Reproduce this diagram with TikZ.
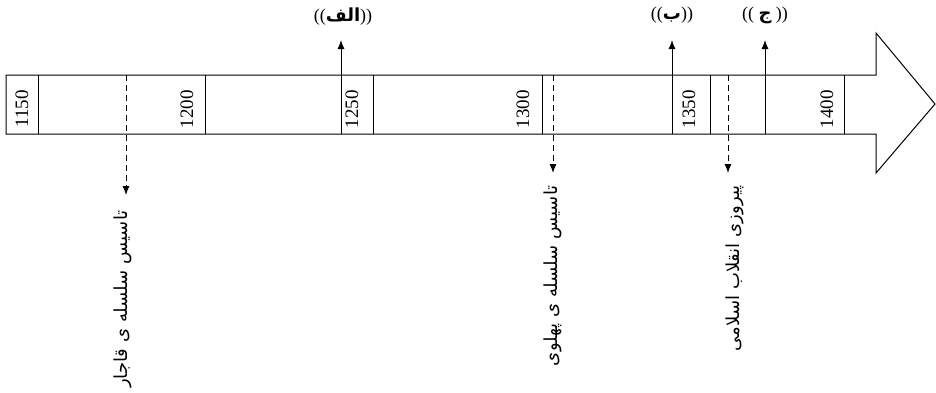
\documentclass[tikz,border=0pt]{standalone}
\usepackage{fontspec}
\setmainfont{Liberation Serif}
\newfontfamily\arabicfont[Script=Arabic]{DejaVu Sans}
\TeXXeTstate=1
\usetikzlibrary{arrows.meta}
\begin{document}
\begin{tikzpicture}[x=1pt,y=-1pt,line width=1pt]
    \tikzset{
        year/.style={rotate=90,font=\fontsize{19}{22}\selectfont,inner sep=0pt},
        event/.style={rotate=90,anchor=east,font=\arabicfont\fontsize{18}{20}\selectfont,inner sep=0pt},
        mark label/.style={font=\fontsize{18}{21}\selectfont,inner sep=0pt},
        fall/.style={dash pattern=on 6pt off 4pt,-{Latex[length=9pt,width=7pt]}},
        rise/.style={-{Latex[length=9pt,width=7pt]}},
    }
    \useasboundingbox (0,0) rectangle (936,392);
    \def\timeline{(6,75) -- (876,75) -- (876,33) -- (935,104) -- (876,173) -- (876,134) -- (6,134) -- cycle}
    \draw \timeline;
    % year cells
    \foreach \x/\c/\yr in {38/22/1150,205/187/1200,373/352/1250,542/523/1300,710/689/1350,844/827/1400}{
        \draw (\x,75) -- (\x,134);
        \node[year] (y\yr) at (\c,109) {\yr};
    }
    % events below
    \coordinate (qtop) at (126,75);
    \coordinate (ptop) at (553,75);
    \coordinate (etop) at (728,75);
    \node[event] (qajar) at (123,210) {\beginR تاسیس سلسله ی قاجار\endR};
    \node[event] (pahlavi) at (553,185) {\beginR تاسیس سلسله ی پهلوی\endR};
    \node[event] (enghelab) at (735,185) {\beginR پیروزی انقلاب اسلامی\endR};
    \draw[fall,shorten >=15pt] (qtop) -- (qtop |- qajar.east);
    \draw[fall,shorten >=12pt] (ptop) -- (ptop |- pahlavi.east);
    \draw[fall,shorten >=12pt] (etop) -- (etop |- enghelab.east);
    % marks above
    \coordinate (abot) at (341,134);
    \coordinate (bbot) at (672,134);
    \coordinate (jbot) at (765,134);
    \node[mark label] (alef) at (343,17) {(({\arabicfont\bfseries\beginR الف\endR}))};
    \node[mark label] (be) at (672,15) {(({\arabicfont\bfseries\beginR ب\endR}))};
    \node[mark label] (jim) at (765,15) {(( {\arabicfont\bfseries\beginR ج\endR} ))};
    \draw[rise] (abot) -- (abot |- 0,40);
    \draw[rise] (bbot) -- (bbot |- 0,40);
    \draw[rise] (jbot) -- (jbot |- 0,40);
\end{tikzpicture}
\end{document}
